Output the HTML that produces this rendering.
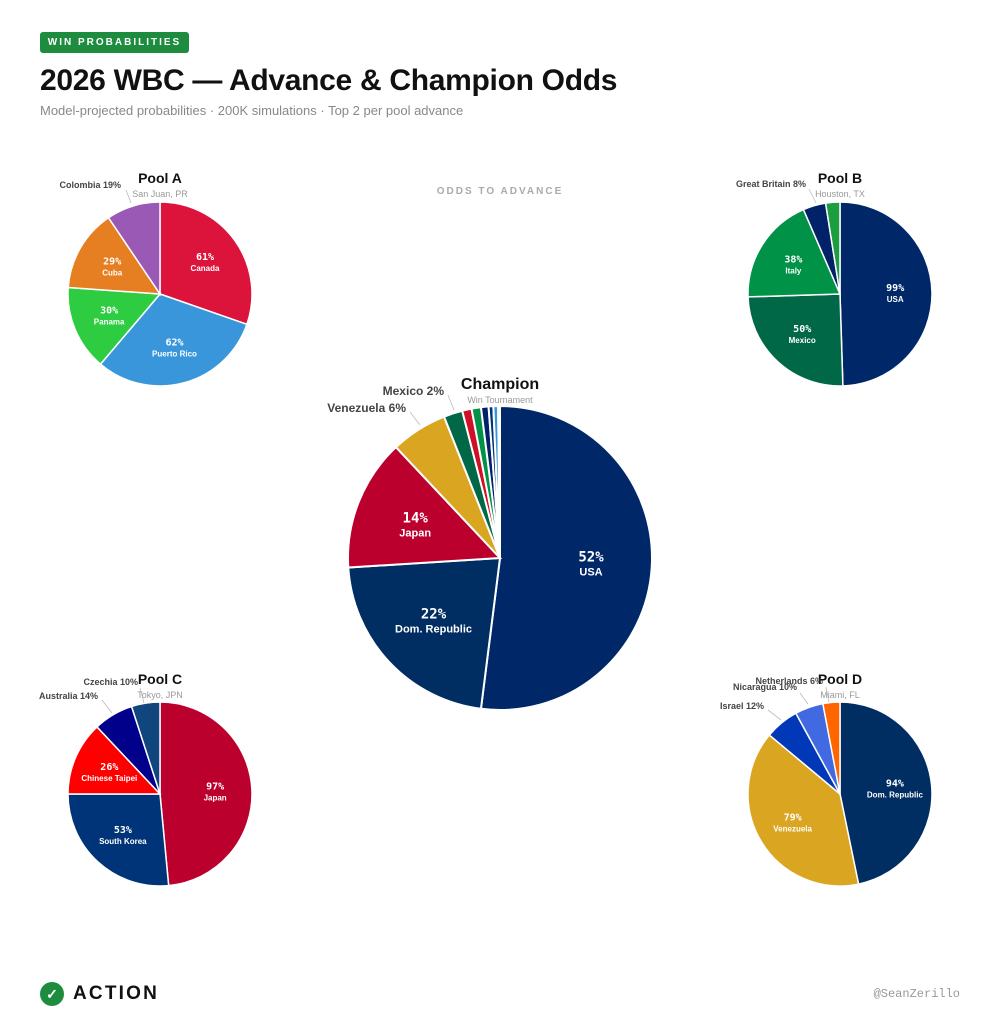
<!DOCTYPE html>
<html><head><meta charset="utf-8">
<style>
body{margin:0;background:#fff;width:1000px;height:1030px;overflow:hidden;font-family:"Liberation Sans",sans-serif;position:relative}
.badge{position:absolute;left:40px;top:32px;width:149px;height:21px;background:#1e8c3e;border-radius:3px;color:#fff;font-size:10px;font-weight:bold;letter-spacing:2px;line-height:21px;text-align:center}
h1{position:absolute;left:40px;top:64px;margin:0;font-size:30px;font-weight:bold;color:#111;letter-spacing:-0.3px}
.sub{position:absolute;left:40px;top:103px;font-size:13px;color:#888}
svg{position:absolute;left:0;top:0}
.foot{position:absolute;left:40px;top:982px;display:flex;align-items:center}
.chk{width:24px;height:24px;border-radius:50%;background:#1e8c3e;color:#fff;font-size:14px;text-align:center;line-height:24px;font-weight:bold}
.act{margin-left:9px;font-size:19px;font-weight:bold;letter-spacing:2.2px;color:#111}
.hand{position:absolute;right:40px;top:987px;font-family:"Liberation Mono",monospace;font-size:12px;color:#999}
</style></head><body>
<div class="badge">WIN PROBABILITIES</div>
<h1>2026 WBC — Advance &amp; Champion Odds</h1>
<div class="sub">Model-projected probabilities · 200K simulations · Top 2 per pool advance</div>
<svg id="s" width="1000" height="1030" xmlns="http://www.w3.org/2000/svg"></svg>
<div class="foot"><div class="chk">✓</div><div class="act">ACTION</div></div>
<div class="hand">@SeanZerillo</div>
<script>
const s=document.getElementById('s');let h='';
function pie(cx,cy,r,data,ps,ns,sw){
 const tot=data.reduce((a,d)=>a+d[1],0);let a=0;
 data.forEach(d=>{const f=d[1]/tot,a0=a*2*Math.PI,a1=(a+f)*2*Math.PI;a+=f;
  const x0=cx+r*Math.sin(a0),y0=cy-r*Math.cos(a0),x1=cx+r*Math.sin(a1),y1=cy-r*Math.cos(a1);
  h+=`<path d="M${cx},${cy}L${x0},${y0}A${r},${r} 0 ${f>0.5?1:0} 1 ${x1},${y1}Z" fill="${d[2]}" stroke="#fff" stroke-width="${sw}"/>`;
  if(d[3]){const m=(a0+a1)/2,lx=cx+r*0.6*Math.sin(m),ly=cy-r*0.6*Math.cos(m);
   h+=`<text x="${lx}" y="${ly-2}" text-anchor="middle" fill="#fff" font-weight="bold" font-size="${ps}" font-family="DejaVu Sans Mono,monospace">${d[1]}%</text>`;
   h+=`<text x="${lx}" y="${ly+ns+1}" text-anchor="middle" fill="#fff" font-weight="bold" font-size="${ns}">${d[0]}</text>`;}
 });}
function title(x,y,t,st,fs){h+=`<text x="${x}" y="${y}" text-anchor="middle" font-weight="bold" font-size="${fs}" fill="#111">${t}</text><text x="${x}" y="${y+14}" text-anchor="middle" font-size="9" fill="#999">${st}</text>`;}
function lab(x,y,t,lx1,ly1,lx2,ly2,fs){h+=`<line x1="${lx1}" y1="${ly1}" x2="${lx2}" y2="${ly2}" stroke="#bbb" stroke-width="0.8"/><text x="${x}" y="${y}" text-anchor="end" font-weight="bold" font-size="${fs||9}" fill="#444">${t}</text>`;}
h+=`<text x="500" y="194" text-anchor="middle" font-size="10" font-weight="bold" fill="#aaa" letter-spacing="2">ODDS TO ADVANCE</text>`;
pie(500,558,152,[["USA",52,"#002868",1],["Dom. Republic",22,"#002D62",1],["Japan",14,"#BC002D",1],["Venezuela",6,"#DAA520"],["Mexico",2,"#006847"],["",1,"#CE1126"],["",1,"#009246"],["",0.8,"#012169"],["",0.5,"#003478"],["",0.5,"#3A96DB"],["",0.2,"#bbb"]],14,11,2);
title(500,389,"Champion","Win Tournament",16);
lab(406,412,"Venezuela 6%",410,412,420,425,12);lab(444,395,"Mexico 2%",448,395,454,410,12);
pie(160,294,92,[["Canada",61,"#DC143C",1],["Puerto Rico",62,"#3A96DB",1],["Panama",30,"#2ECC40",1],["Cuba",29,"#E67E22",1],["Colombia",19,"#9B59B6"]],10,8,1.5);
title(160,183,"Pool A","San Juan, PR",14);lab(121,188,"Colombia 19%",126,190,131,203);
pie(840,294,92,[["USA",99,"#002868",1],["Mexico",50,"#006847",1],["Italy",38,"#009246",1],["Great Britain",8,"#012169"],["",5,"#1a9e3f"]],10,8,1.5);
title(840,183,"Pool B","Houston, TX",14);lab(806,187,"Great Britain 8%",809,189,816,203);
pie(160,794,92,[["Japan",97,"#BC002D",1],["South Korea",53,"#003478",1],["Chinese Taipei",26,"#FF0000",1],["Australia",14,"#00008B"],["Czechia",10,"#11457E"]],10,8,1.5);
title(160,684,"Pool C","Tokyo, JPN",14);lab(98,699,"Australia 14%",102,700,112,713);lab(138,685,"Czechia 10%",140,688,144,703);
pie(840,794,92,[["Dom. Republic",94,"#002D62",1],["Venezuela",79,"#DAA520",1],["Israel",12,"#0038B8"],["Nicaragua",10,"#4169E1"],["Netherlands",6,"#FF6600"]],10,8,1.5);
title(840,684,"Pool D","Miami, FL",14);lab(764,709,"Israel 12%",768,710,781,720);lab(797,690,"Nicaragua 10%",800,693,808,704);lab(823,684,"Netherlands 6%",826,687,829,702);
s.innerHTML=h;
</script>
</body></html>
